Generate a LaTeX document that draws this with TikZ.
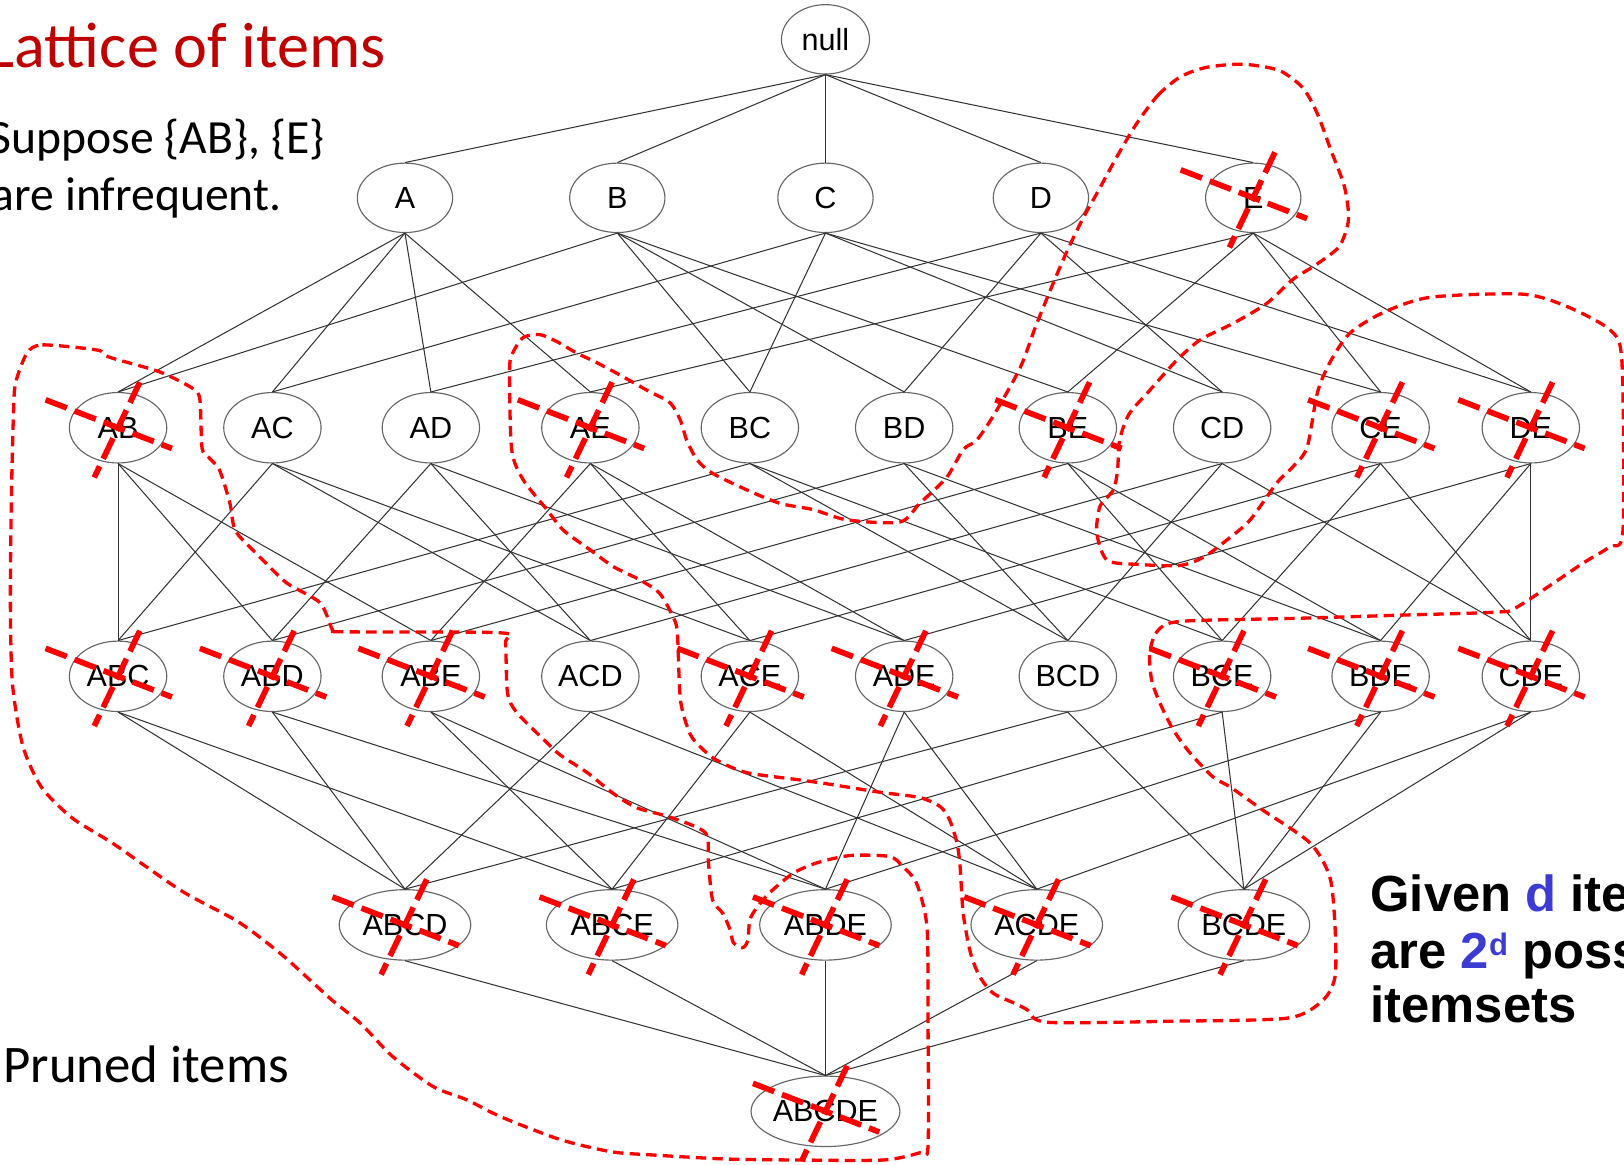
\documentclass[tikz,border=0pt]{standalone}
\usepackage{fontspec}
\usetikzlibrary{shapes.geometric}
\newfontfamily\arialf{Liberation Sans}
\newfontfamily\calib{Carlito}
\definecolor{titlered}{RGB}{192,0,0}
\definecolor{itemblue}{RGB}{60,60,210}
\newcommand\lblfont{\arialf\fontsize{29.5}{31}\selectfont}
\begin{document}
\begin{tikzpicture}[x=1pt,y=-1pt,
  itm/.style={ellipse, draw=black!60, line width=1.1pt, minimum width=94pt,
              minimum height=68pt, inner sep=0pt, font=\lblfont},
  lvlone/.style={itm, minimum width=92pt, minimum height=67pt},
  lvlfour/.style={itm, minimum width=127pt},
  lvlfive/.style={itm, minimum width=136pt},
  link/.style={draw=black!80, line width=1pt},
  prune/.style={draw=red, line width=5.5pt, dash pattern=on 22pt off 8pt},
  hull/.style={draw=red, line width=3.2pt, dash pattern=on 10pt off 6pt, line join=round}]
\useasboundingbox (0,0) rectangle (1568,1124);
\clip (0,0) rectangle (1568,1124);

% lattice nodes
\node[itm, minimum width=85pt, minimum height=67pt] (null) at (797,38) {null};
\foreach \n/\x in {A/391,B/596,C/797,D/1005,E/1210}
  \node[lvlone] (\n) at (\x,191) {\n};
\foreach \n/\x in {AB/114,AC/263,AD/416,AE/570,BC/724,BD/873,BE/1031,CD/1180,CE/1333,DE/1478}
  \node[itm] (\n) at (\x,413) {\n};
\foreach \n/\x in {ABC/114,ABD/263,ABE/416,ACD/570,ACE/724,ADE/873,BCD/1031,BCE/1180,BDE/1333,CDE/1478}
  \node[itm] (\n) at (\x,653) {\n};
\foreach \n/\x in {ABCD/391,ABCE/591,ABDE/797,ACDE/1001,BCDE/1201}
  \node[lvlfour] (\n) at (\x,893) {\n};
\node[lvlfive] (ABCDE) at (797,1073) {ABCDE};

% subset links
\foreach \p/\c in {null/A,null/B,null/C,null/D,null/E,
  A/AB,A/AC,A/AD,A/AE,B/AB,B/BC,B/BD,B/BE,C/AC,C/BC,C/CD,C/CE,
  D/AD,D/BD,D/CD,D/DE,E/AE,E/BE,E/CE,E/DE,
  AB/ABC,AB/ABD,AB/ABE,AC/ABC,AC/ACD,AC/ACE,AD/ABD,AD/ACD,AD/ADE,
  AE/ABE,AE/ACE,AE/ADE,BC/ABC,BC/BCD,BC/BCE,BD/ABD,BD/BCD,BD/BDE,
  BE/ABE,BE/BCE,BE/BDE,CD/ACD,CD/BCD,CD/CDE,CE/ACE,CE/BCE,CE/CDE,
  DE/ADE,DE/BDE,DE/CDE,
  ABC/ABCD,ABC/ABCE,ABD/ABCD,ABD/ABDE,ABE/ABCE,ABE/ABDE,
  ACD/ABCD,ACD/ACDE,ACE/ABCE,ACE/ACDE,ADE/ABDE,ADE/ACDE,
  BCD/ABCD,BCD/BCDE,BCE/ABCE,BCE/BCDE,BDE/ABDE,BDE/BCDE,
  CDE/ACDE,CDE/BCDE,
  ABCD/ABCDE,ABCE/ABCDE,ABDE/ABCDE,ACDE/ABCDE,BCDE/ABCDE}
  \draw[link] (\p.south) -- (\c.north);

% region holding the supersets of {E}
\draw[hull] plot[smooth cycle, tension=0.45] coordinates {
 (1097,120) (1118,92) (1140,74) (1165,65) (1200,62) (1235,68) (1258,85) (1272,110)
 (1285,145) (1298,180) (1302,212) (1293,238) (1270,256) (1248,270) (1223,293)
 (1191,312) (1159,328) (1136,348) (1110,377) (1090,400) (1081,425) (1079,454)
 (1075,473) (1062,489) (1059,515) (1069,541) (1100,545) (1139,546) (1162,538)
 (1185,521) (1207,502) (1233,466) (1248,451) (1262,432) (1272,379) (1284,350)
 (1303,322) (1335,302) (1381,287) (1470,284) (1513,296) (1555,319) (1566,350)
 (1567,512) (1554,528) (1528,544) (1465,586) (1445,591) (1350,594) (1252,597)
 (1139,600) (1117,610) (1110,631) (1112,657) (1120,679) (1133,705) (1149,727)
 (1171,750) (1188,760) (1219,782) (1265,814) (1284,847) (1289,895) (1289,943)
 (1277,966) (1243,983) (1130,986) (1011,987) (992,975) (978,968) (959,959)
 (946,943) (937,920) (930,882) (927,837) (924,814) (917,792) (908,779) (888,770)
 (850,765) (800,757) (772,753) (721,746) (692,734) (676,721) (666,708) (657,676)
 (654,611) (650,596) (637,573) (618,560) (592,547) (570,531) (544,512) (528,492)
 (505,463) (494,434) (492,357) (495,341) (505,326) (521,323) (538,330) (557,341)
 (576,350) (602,364) (625,377) (647,389) (657,406) (663,425) (673,444) (688,457)
 (721,473) (753,486) (785,492) (818,502) (869,504) (888,486) (914,461) (930,434)
 (943,425) (960,400) (985,355) (1000,315) (1015,278) (1030,243) (1045,212)
 (1060,185) (1078,152)};

% region holding the supersets of {A,B}
\draw[hull] plot[smooth cycle, tension=0.45] coordinates {
 (26,341) (41,333) (94,338) (106,345) (154,359) (186,375) (193,386) (195,432)
 (201,441) (212,454) (222,486) (227,512) (244,531) (254,541) (277,563) (309,582)
 (321,608) (328,610) (483,611) (488,621) (490,669) (499,688) (528,717) (541,729)
 (567,746) (592,766) (615,780) (647,789) (681,804) (684,833) (688,869) (698,882)
 (705,898) (708,910) (717,915) (722,908) (724,888) (731,876) (743,862) (766,843)
 (789,833) (821,826) (859,827) (872,837) (885,853) (895,895) (896,985) (896,1107)
 (888,1113) (853,1120) (772,1120) (700,1119) (628,1115) (590,1112) (540,1100)
 (483,1078) (451,1062) (418,1049) (379,1020) (348,988) (321,966) (299,946)
 (270,920) (230,890) (175,860) (110,815) (70,790) (40,760) (22,720) (12,660)
 (10,580) (11,480) (13,400) (15,370)};

% crosses on pruned itemsets
\foreach \n in {E,AB,AE,BE,CE,DE,ABC,ABD,ABE,ACE,ADE,BCE,BDE,CDE,
                ABCD,ABCE,ABDE,ACDE,BCDE,ABCDE} {
  \draw[prune] ([shift={(-70,-27)}]\n.center) -- ([shift={(52,20)}]\n.center);
  \draw[prune] ([shift={(21,-44)}]\n.center) -- ([shift={(-23,48)}]\n.center);
}

% captions
\node[anchor=base west, inner sep=0pt, text=titlered, font=\calib\fontsize{62}{70}\selectfont]
  (title) at (-12,65) {Lattice of items};
\node[anchor=base west, inner sep=0pt, font=\calib\fontsize{46}{54}\selectfont]
  (supp) at (-10,148) {Suppose \{AB\}, \{E\}};
\node[anchor=base west, inner sep=0pt, font=\calib\fontsize{46}{54}\selectfont]
  (infreq) at (-8,203) {are infrequent.};
\node[anchor=base west, inner sep=0pt, font=\calib\fontsize{51}{60}\selectfont]
  (pruned) at (3,1045) {Pruned items};
\node[anchor=base west, inner sep=0pt, font=\arialf\bfseries\fontsize{49}{56}\selectfont]
  (given) at (1323,880) {Given \textcolor{itemblue}{d} items};
\node[anchor=base west, inner sep=0pt, font=\arialf\bfseries\fontsize{49}{56}\selectfont]
  (count) at (1323,935) {are \textcolor{itemblue}{2\raisebox{12pt}{\fontsize{30}{30}\selectfont d}} possible};
\node[anchor=base west, inner sep=0pt, font=\arialf\bfseries\fontsize{49}{56}\selectfont]
  (sets) at (1323,987) {itemsets};
\end{tikzpicture}
\end{document}
